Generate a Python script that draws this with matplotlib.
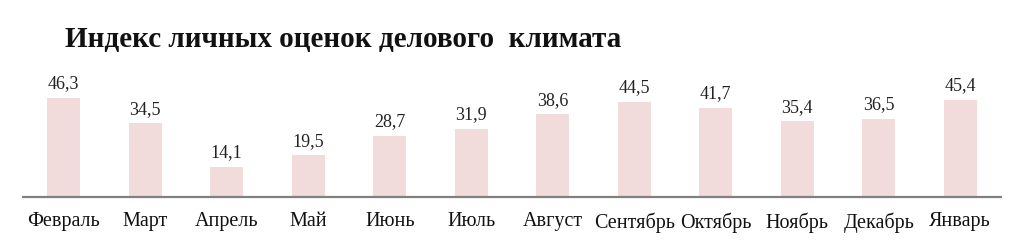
import matplotlib
matplotlib.use("Agg")
import matplotlib.pyplot as plt

months = ["Февраль", "Март", "Апрель", "Май", "Июнь", "Июль", "Август",
          "Сентябрь", "Октябрь", "Ноябрь", "Декабрь", "Январь"]
values = [46.3, 34.5, 14.1, 19.5, 28.7, 31.9, 38.6, 44.5, 41.7, 35.4, 36.5, 45.4]
title = "Индекс личных оценок делового  климата"

W, H = 1024, 244
fig = plt.figure(figsize=(W / 100, H / 100), dpi=100)
fig.patch.set_facecolor("white")

left, right = 23, 1001
bottom_px, top_px = 197, 60
ax = fig.add_axes([left / W, 1 - bottom_px / H, (right - left) / W, (bottom_px - top_px) / H])
px_per_unit = 2.14
ax.set_ylim(0, (bottom_px - top_px) / px_per_unit)
ax.set_xlim(-0.5, len(months) - 0.5)

x = list(range(len(months)))
ax.bar(x, values, width=0.40, color="#F2DCDB", edgecolor="none", zorder=2)

serif = ["Liberation Serif", "DejaVu Serif"]
for xi, v in zip(x, values):
    ax.annotate(f"{v:.1f}".replace(".", ","), (xi, v), xytext=(0, 4),
                textcoords="offset points", ha="center", va="bottom",
                fontsize=13, family=serif, color="#222222")

ax.set_xticks(x)
ax.set_xticklabels(months, family=serif, fontsize=14.5, color="#111111")
ax.tick_params(axis="x", length=0, pad=11)
ax.set_yticks([])
for s in ["left", "right", "top"]:
    ax.spines[s].set_visible(False)
ax.spines["bottom"].set_color("#808080")
ax.spines["bottom"].set_linewidth(1.6)
ax.spines["bottom"].set_zorder(3)

fig.text(65 / W, 1 - 39 / H, title, ha="left", va="center",
         fontsize=21, fontweight="bold", family=serif, color="#111111")

fig.savefig("out.png", dpi=100, facecolor="white")
